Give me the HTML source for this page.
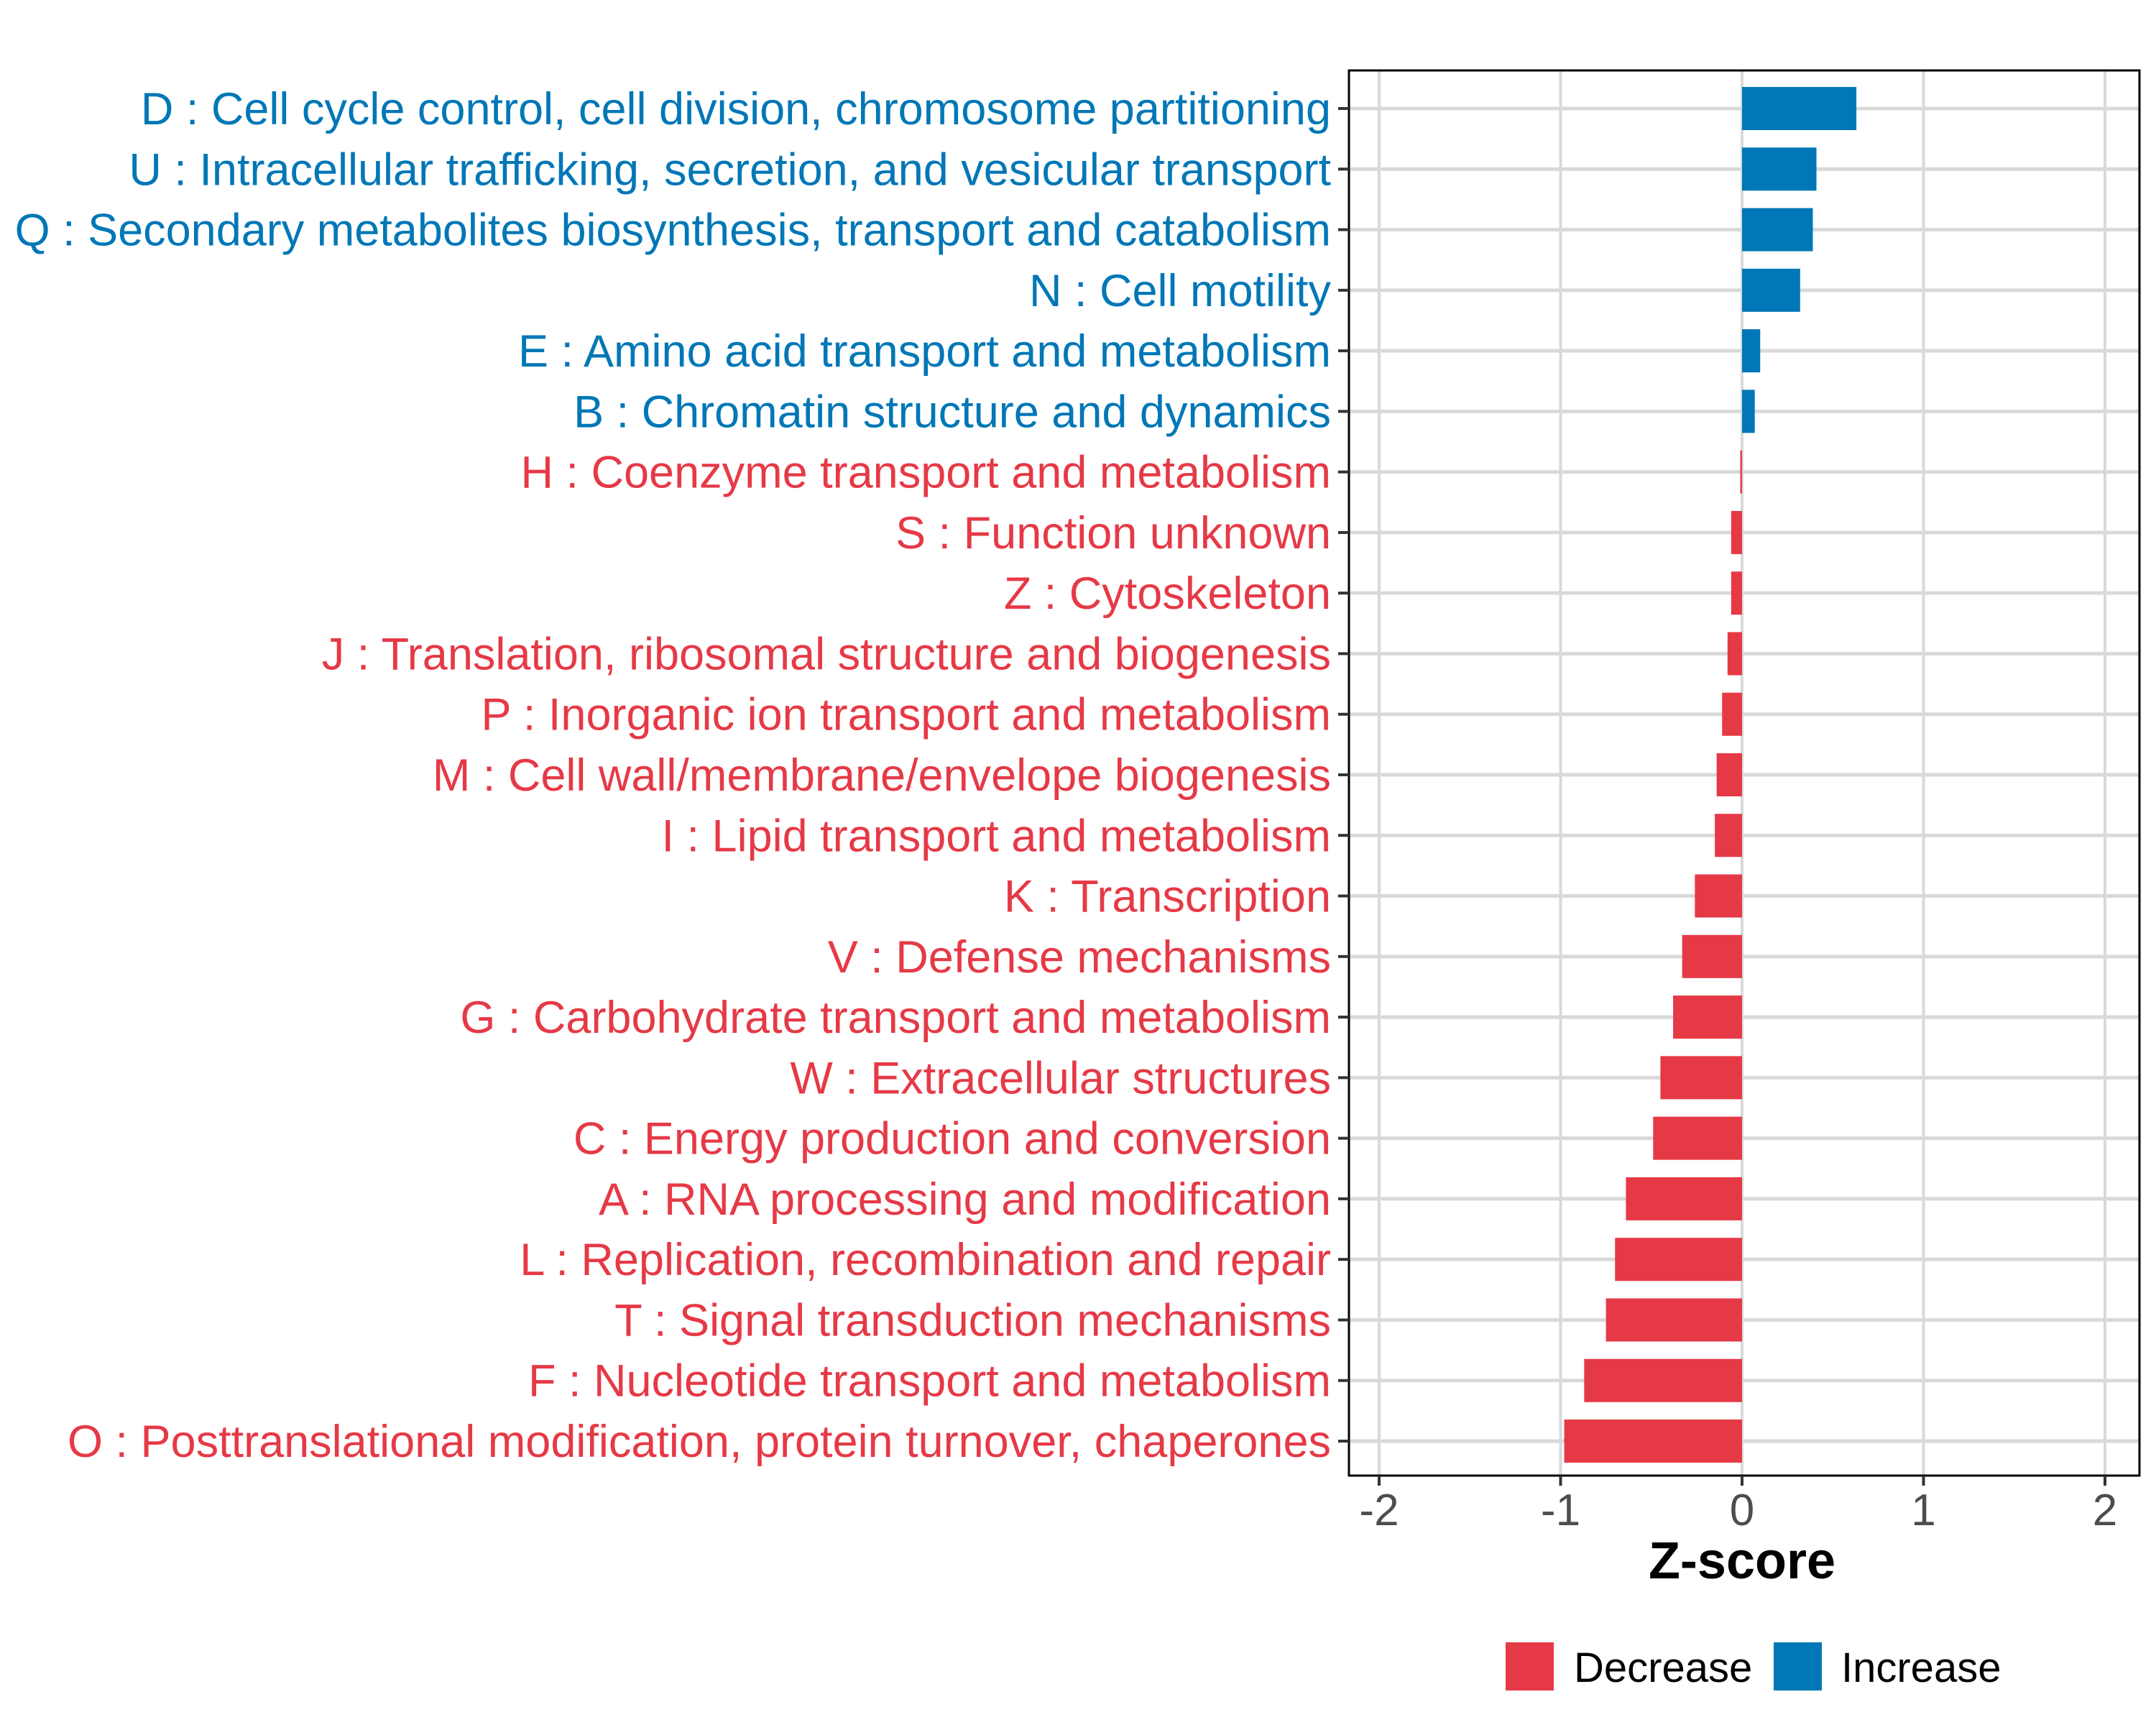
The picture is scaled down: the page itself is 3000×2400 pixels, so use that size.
<!DOCTYPE html>
<html><head><meta charset="utf-8"><style>
html,body{margin:0;padding:0;background:#fff;}
svg{display:block;font-family:"Liberation Sans",Arial,sans-serif;}
</style></head><body>
<svg id="chart" width="3000" height="2400" viewBox="0 0 3000 2400" xmlns="http://www.w3.org/2000/svg">
<rect width="3000" height="2400" fill="#fff"/>
<g id="grid"></g>
<g id="bars"></g>
<rect x="1877" y="98" width="1100" height="1955" fill="none" stroke="#000" stroke-width="3"/>
<g id="yaxis"></g>
<g id="xaxis"></g>
<text x="2424" y="2196" text-anchor="middle" font-size="72" font-weight="bold" fill="#000">Z-score</text>
<g>
<rect x="2095" y="2285" width="67" height="67" fill="#E63946"/>
<text x="2190" y="2340" font-size="58" fill="#000">Decrease</text>
<rect x="2468" y="2285" width="67" height="67" fill="#0077B6"/>
<text x="2562" y="2340" font-size="58" fill="#000">Increase</text>
</g>
</svg>
<script>
const categories = [
"D : Cell cycle control, cell division, chromosome partitioning",
"U : Intracellular trafficking, secretion, and vesicular transport",
"Q : Secondary metabolites biosynthesis, transport and catabolism",
"N : Cell motility",
"E : Amino acid transport and metabolism",
"B : Chromatin structure and dynamics",
"H : Coenzyme transport and metabolism",
"S : Function unknown",
"Z : Cytoskeleton",
"J : Translation, ribosomal structure and biogenesis",
"P : Inorganic ion transport and metabolism",
"M : Cell wall/membrane/envelope biogenesis",
"I : Lipid transport and metabolism",
"K : Transcription",
"V : Defense mechanisms",
"G : Carbohydrate transport and metabolism",
"W : Extracellular structures",
"C : Energy production and conversion",
"A : RNA processing and modification",
"L : Replication, recombination and repair",
"T : Signal transduction mechanisms",
"F : Nucleotide transport and metabolism",
"O : Posttranslational modification, protein turnover, chaperones"];
const zscores = [0.63,0.41,0.39,0.32,0.10,0.07,-0.01,-0.06,-0.06,-0.08,-0.11,-0.14,-0.15,-0.26,-0.33,-0.38,-0.45,-0.49,-0.64,-0.70,-0.75,-0.87,-0.98];
const xTicks = [-2,-1,0,1,2];
const xTickLabels = ["-2","-1","0","1","2"];

const NS = "http://www.w3.org/2000/svg";
const X0 = 2424, UNIT = 252.5, Y0 = 151, STEP = (2005-151)/22;
function xScale(v){ return X0 + v*UNIT; }
function yScale(i){ return Y0 + i*STEP; }
function mk(tag, attrs, parent){ const e=document.createElementNS(NS,tag); for(const k in attrs) e.setAttribute(k,attrs[k]); parent.appendChild(e); return e; }
const grid=document.getElementById('grid'), bars=document.getElementById('bars'), yax=document.getElementById('yaxis'), xax=document.getElementById('xaxis');

xTicks.forEach((t,i)=>{
  const x=xScale(t);
  const g=mk('line',{x1:x,x2:x,y1:98,y2:2053,stroke:'#d9d9d9','stroke-width':4},grid);
  
  
  const tk=mk('line',{x1:x,x2:x,y1:2053,y2:2067,stroke:'#333','stroke-width':4},xax);
  
  
  const tl=mk('text',{x:x,y:2122,'text-anchor':'middle','font-size':62,fill:'#4d4d4d'},xax);
  tl.textContent=xTickLabels[i];
  
  
});
categories.forEach((c,i)=>{
  const y=yScale(i);
  const g=mk('line',{x1:1877,x2:2977,y1:y,y2:y,stroke:'#d9d9d9','stroke-width':5},grid);
  
  
});
categories.forEach((c,i)=>{
  const y=yScale(i), v=zscores[i];
  const col = v>=0 ? '#0077B6' : '#E63946';
  const x1=xScale(Math.min(0,v)), x2=xScale(Math.max(0,v));
  const b=mk('rect',{x:x1,y:y-30,width:Math.max(2,x2-x1),height:60,fill:col},bars);
  
  
  const tk=mk('line',{x1:1862,x2:1877,y1:y,y2:y,stroke:'#333','stroke-width':4},yax);
  
  
  const t=mk('text',{x:1852,y:y+22,'text-anchor':'end','font-size':63,fill:col},yax);
  t.textContent=c;
  
  
});
</script>
</body></html>
